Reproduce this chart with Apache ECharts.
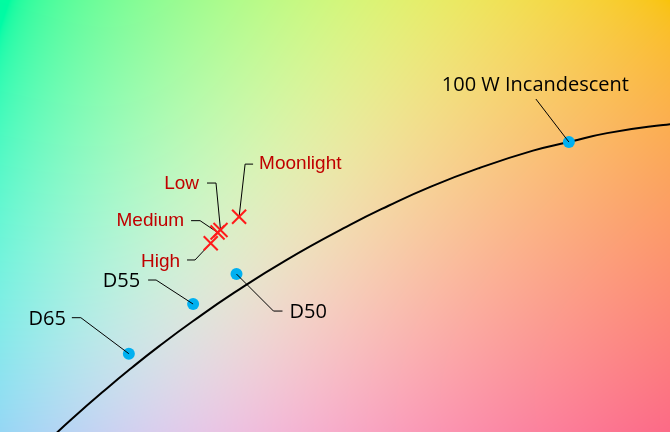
<!DOCTYPE html>
<html><head><meta charset="utf-8">
<script src="https://cdn.jsdelivr.net/npm/echarts@6/dist/echarts.min.js"></script>
<style>html,body{margin:0;padding:0;width:670px;height:432px;overflow:hidden;background:#fff}#c{width:670px;height:432px}</style>
</head><body><div id="c"></div>
<script>
// Planckian locus (CIE 1931 x, y), 2400 K .. 9000 K
const locusX = [0.4857, 0.4765, 0.4593, 0.4476, 0.4366, 0.4200, 0.4053, 0.3923, 0.3805, 0.3607, 0.3450, 0.3323, 0.3220, 0.3135, 0.3064, 0.2952, 0.2870];
const locusY = [0.4147, 0.4137, 0.4107, 0.4074, 0.4042, 0.3977, 0.3909, 0.3838, 0.3767, 0.3635, 0.3516, 0.3410, 0.3318, 0.3237, 0.3166, 0.3048, 0.2956];

// Reference illuminants
const illumNames = ['D65', 'D55', 'D50', '100 W Incandescent'];
const illumX = [0.3127, 0.3324, 0.3457, 0.4476];
const illumY = [0.3290, 0.3474, 0.3585, 0.4074];

// Measured light settings
const sampleNames = ['Moonlight', 'Low', 'Medium', 'High'];
const sampleX = [0.3465, 0.3408, 0.3399, 0.3378];
const sampleY = [0.3797, 0.3748, 0.3739, 0.3699];

const xRange = [0.2732, 0.4786];
const yRange = [0.30, 0.46];

// label placement (pixel offsets from mark)
const layout = {
  'D65': {pts: [[-48, -36], [-57, -36]], text: [-63, -34], align: 'right'},
  'D55': {pts: [[-37, -24], [-45, -24]], text: [-53, -23], align: 'right'},
  'D50': {pts: [[37, 37], [46, 37]], text: [53, 38.5], align: 'left'},
  '100 W Incandescent': {pts: [[-33, -43]], text: [-33.5, -57], align: 'center'},
  'Moonlight': {pts: [[6, -52.7], [14, -52.7]], text: [20, -52.7], align: 'left'},
  'Low': {pts: [[-4.5, -47], [-13.5, -47]], text: [-21.5, -46], align: 'right'},
  'Medium': {pts: [[-17.5, -11.8], [-26.5, -11.8]], text: [-33.5, -12], align: 'right'},
  'High': {pts: [[-15.7, 16.7], [-23.7, 16.7]], text: [-30.7, 18], align: 'right'}
};

const W = 670, H = 432;
const chart = echarts.init(document.getElementById('c'), null, {renderer: 'canvas', width: W, height: H});

// chromaticity -> display colour (equal-energy white, p-norm normalised)
function xyToRGB(x, y) {
  const X = 0.9505 * x / y, Y = 1, Z = 1.089 * (1 - x - y) / y;
  let r = 3.2406 * X - 1.5372 * Y - 0.4986 * Z;
  let g = -0.9689 * X + 1.8758 * Y + 0.0415 * Z;
  let b = 0.0557 * X - 0.2040 * Y + 1.0570 * Z;
  r = Math.max(r, 0); g = Math.max(g, 0); b = Math.max(b, 0);
  const m = Math.max(r, g, b);
  r /= m; g /= m; b /= m;
  const n = Math.pow(r ** 4 + g ** 4 + b ** 4, 0.25);
  const gam = v => { v /= n; return v <= 0.0031308 ? 12.92 * v : 1.055 * Math.pow(v, 1 / 2.4) - 0.055; };
  const k = 252;
  return [gam(r) * k, gam(g) * k, gam(b) * k];
}

function makeBackground() {
  const cv = document.createElement('canvas');
  cv.width = W; cv.height = H;
  const ctx = cv.getContext('2d');
  const img = ctx.createImageData(W, H);
  const p0 = chart.convertFromPixel({gridIndex: 0}, [0, 0]);
  const p1 = chart.convertFromPixel({gridIndex: 0}, [W, H]);
  for (let j = 0; j < H; j++) {
    const y = p0[1] + (p1[1] - p0[1]) * (j + 0.5) / H;
    for (let i = 0; i < W; i++) {
      const x = p0[0] + (p1[0] - p0[0]) * (i + 0.5) / W;
      const c = xyToRGB(x, y);
      const o = (j * W + i) * 4;
      img.data[o] = c[0]; img.data[o + 1] = c[1]; img.data[o + 2] = c[2]; img.data[o + 3] = 255;
    }
  }
  ctx.putImageData(img, 0, 0);
  return cv;
}

function annotRender(names, isBlack) {
  return function (params, api) {
    const idx = api.value(2);
    const name = names[idx];
    const L = layout[name];
    const c = api.coord([api.value(0), api.value(1)]);
    const pts = [c].concat(L.pts.map(p => [c[0] + p[0], c[1] + p[1]]));
    return {
      type: 'group',
      children: [
        {type: 'polyline', shape: {points: pts}, style: {stroke: '#000', lineWidth: 1, fill: null}},
        {type: 'text', style: {
          text: name, x: c[0] + L.text[0], y: c[1] + L.text[1],
          fill: isBlack ? '#000' : '#C00000',
          font: isBlack ? '20px "Open Sans"' : '19px "Liberation Sans"',
          align: L.align, verticalAlign: 'middle'
        }}
      ]
    };
  };
}

const illumData = illumX.map((x, i) => [x, illumY[i], i]);
const sampleData = sampleX.map((x, i) => [x, sampleY[i], i]);

chart.setOption({
  animation: false,
  grid: {left: 0, right: 0, top: 0, bottom: 0},
  xAxis: {type: 'value', min: xRange[0], max: xRange[1], show: false},
  yAxis: {type: 'value', min: yRange[0], max: yRange[1], show: false},
  series: [
    {type: 'line', data: locusX.map((x, i) => [x, locusY[i]]), smooth: true, symbol: 'none',
     lineStyle: {color: '#000', width: 2}, z: 2, clip: true},
    {type: 'scatter', data: illumData, symbolSize: 12, itemStyle: {color: '#00B0F0', opacity: 1}, z: 3},
    {type: 'custom', data: illumData, renderItem: annotRender(illumNames, true), z: 4, clip: false},
    {type: 'custom', data: sampleData, renderItem: annotRender(sampleNames, false), z: 4, clip: false},
    {type: 'custom', data: sampleData, z: 5,
     renderItem: function (params, api) {
       const c = api.coord([api.value(0), api.value(1)]);
       const s = 7;
       return {type: 'group', children: [
         {type: 'line', shape: {x1: c[0] - s, y1: c[1] - s, x2: c[0] + s, y2: c[1] + s}, style: {stroke: '#FF1A1A', lineWidth: 2}},
         {type: 'line', shape: {x1: c[0] + s, y1: c[1] - s, x2: c[0] - s, y2: c[1] + s}, style: {stroke: '#FF1A1A', lineWidth: 2}}
       ]};
     }}
  ]
});

chart.setOption({
  graphic: [{type: 'image', left: 0, top: 0, z: -10, silent: true,
    style: {image: makeBackground(), x: 0, y: 0, width: W, height: H}}]
});
</script>
</body></html>
